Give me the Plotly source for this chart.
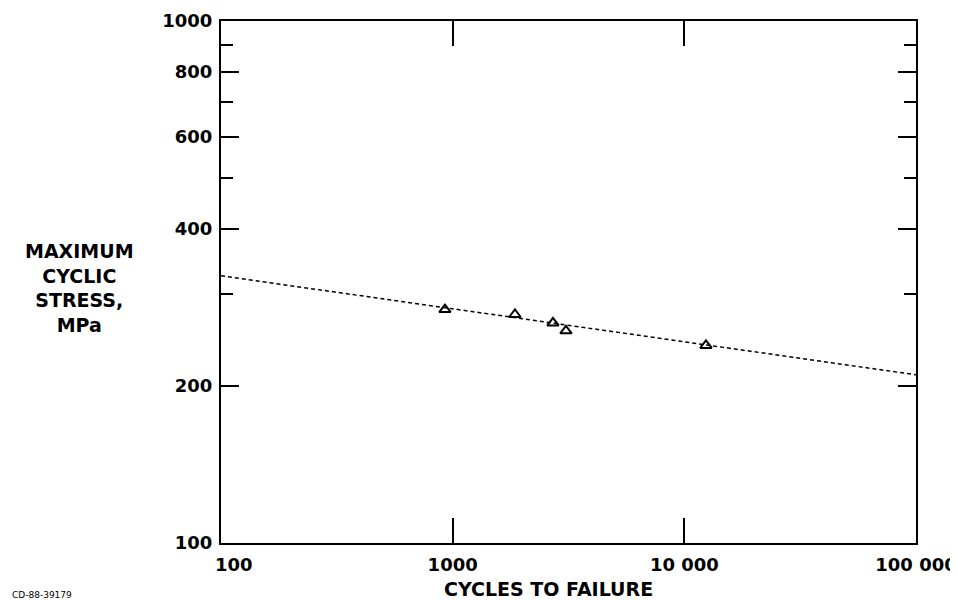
import plotly.graph_objects as go

# Data
cycles = [926, 1857, 2710, 3083, 12400]
stress = [280, 274, 264, 255, 239]
fit_cycles = [100, 100000]
fit_stress = [325, 210]

x_tickvals = [100, 1000, 10000, 100000]
x_ticktext = ["", "1000", "10 000", "100 000"]
x_first_label = "100"
y_tickvals = [100, 200, 400, 600, 800, 1000]
y_ticktext = ["100", "200", "400", "600", "800", "1000"]
y_minor = [300, 500, 700, 900]

FONT = "DejaVu Sans"
TICKFONT = dict(family=FONT, size=18, weight="bold", color="black")

fig = go.Figure()
fig.add_trace(go.Scatter(
    x=fit_cycles, y=fit_stress, mode="lines",
    line=dict(color="black", width=1.5, dash="4px,3px"),
    hoverinfo="skip", showlegend=False))
fig.add_trace(go.Scatter(
    x=cycles, y=stress, mode="markers",
    marker=dict(symbol="triangle-up-open", size=10, color="black",
                line=dict(color="black", width=2)),
    showlegend=False))

fig.update_layout(
    width=958, height=600,
    margin=dict(l=213, r=50, t=13, b=65),
    paper_bgcolor="white", plot_bgcolor="white",
    font=dict(family=FONT, color="black"),
    xaxis=dict(
        type="log", range=[2, 5], automargin=False,
        tickmode="array", tickvals=x_tickvals, ticktext=x_ticktext,
        ticks="inside", ticklen=25, tickwidth=2, tickcolor="black",
        ticklabelstandoff=4,
        showline=True, linecolor="black", linewidth=2, mirror="allticks",
        showgrid=False, zeroline=False,
        tickfont=TICKFONT,
    ),
    yaxis=dict(
        type="log", range=[2, 3], automargin=False,
        tickmode="array", tickvals=y_tickvals, ticktext=y_ticktext,
        ticks="inside", ticklen=18, tickwidth=2, tickcolor="black",
        ticklabelstandoff=3,
        showline=True, linecolor="black", linewidth=2, mirror="allticks",
        showgrid=False, zeroline=False,
        tickfont=TICKFONT,
        minor=dict(tickmode="array", tickvals=y_minor, ticks="inside",
                   ticklen=12, tickwidth=2, tickcolor="black", showgrid=False),
    ),
)

# first x tick label, nudged right of the corner as in the original
fig.add_annotation(
    xref="x", yref="paper", x=2, y=0, xshift=13, yshift=-9,
    xanchor="center", yanchor="top", showarrow=False,
    text=x_first_label, font=TICKFONT)

fig.add_annotation(
    xref="paper", yref="paper", x=(540 - 213) / 695, y=(600 - 65 - 594) / 522,
    xanchor="center", yanchor="bottom", showarrow=False,
    text="CYCLES TO FAILURE",
    font=dict(family=FONT, size=19, weight="bold", color="black"))

fig.add_annotation(
    xref="paper", yref="paper", x=(71 - 213) / 695, y=(535 - 280) / 522,
    xanchor="center", yanchor="middle", showarrow=False, align="center",
    text="MAXIMUM<br>CYCLIC<br>STRESS,<br>MPa",
    font=dict(family=FONT, size=19, weight="bold", color="black"))

fig.add_annotation(
    xref="paper", yref="paper", x=(2 - 213) / 695, y=(535 - 594) / 522,
    xanchor="left", yanchor="bottom", showarrow=False,
    text="CD-88-39179",
    font=dict(family=FONT, size=9, color="black"))

fig.write_html("out.html")
